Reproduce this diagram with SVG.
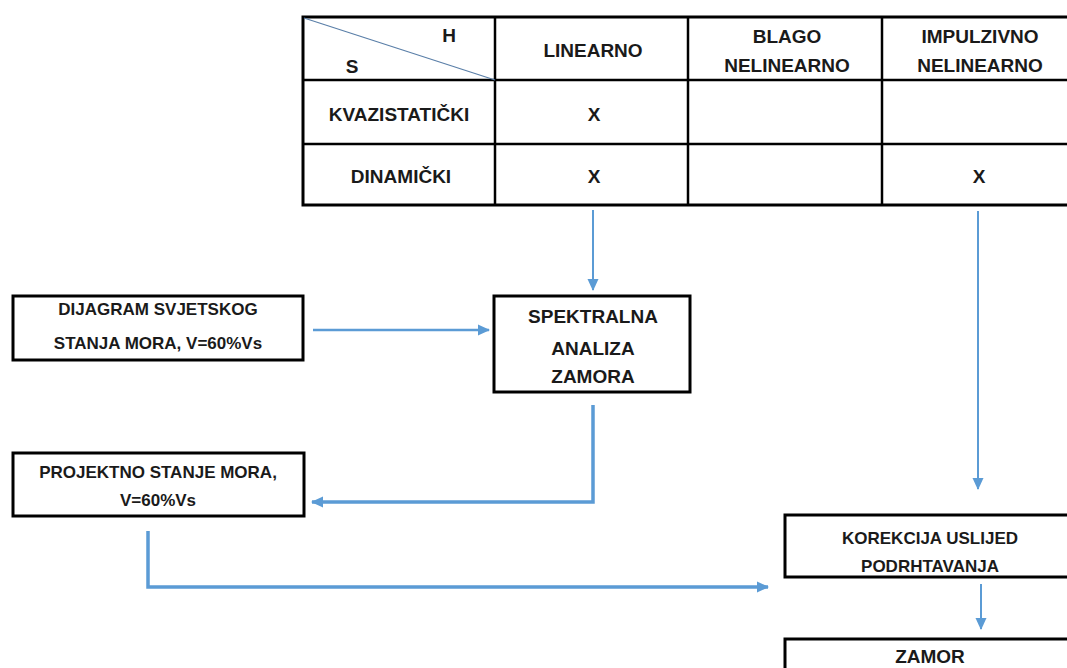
<svg xmlns="http://www.w3.org/2000/svg" width="1067" height="668" viewBox="0 0 1067 668">
<style>
.t{font-family:"Liberation Sans",Arial,sans-serif;font-weight:bold;fill:#1a1a1a;text-anchor:middle}
.th{font-size:19px}
.tb{font-size:17px}
.tc{font-size:19px}
.box{fill:#fff;stroke:#000;stroke-width:3}
.grid{stroke:#000;stroke-width:2.5;fill:none}
.c{fill:none;stroke:#5B9BD5;stroke-linejoin:miter}
</style>
<defs>
<marker id="ah" markerUnits="userSpaceOnUse" markerWidth="12" markerHeight="12" viewBox="0 0 12 12" refX="11" refY="6" orient="auto">
<path d="M0,0.5 L12,6 L0,11.5 Z" fill="#5B9BD5"/>
</marker>
</defs>
<rect width="1067" height="668" fill="#fff"/>
<g id="table">
<rect x="303" y="17" width="780" height="188" fill="#fff" stroke="#000" stroke-width="3"/>
<line class="grid" x1="303" y1="80" x2="1067" y2="80"/>
<line class="grid" x1="303" y1="144" x2="1067" y2="144" stroke-width="2"/>
<line class="grid" x1="495" y1="17" x2="495" y2="205"/>
<line class="grid" x1="688" y1="17" x2="688" y2="205" stroke-width="2"/>
<line class="grid" x1="882" y1="17" x2="882" y2="205" stroke-width="2"/>
<line x1="304" y1="18" x2="495" y2="80" stroke="#5a7fa8" stroke-width="1.2"/>
<text class="t th" x="449" y="42">H</text>
<text class="t th" x="352" y="73">S</text>
<text class="t th" x="593" y="57">LINEARNO</text>
<text class="t th" x="787" y="43">BLAGO</text>
<text class="t th" x="787" y="72">NELINEARNO</text>
<text class="t th" x="980" y="43">IMPULZIVNO</text>
<text class="t th" x="980" y="72">NELINEARNO</text>
<text class="t th" x="399" y="121">KVAZISTATIČKI</text>
<text class="t th" x="594" y="121">X</text>
<text class="t th" x="401" y="183">DINAMIČKI</text>
<text class="t th" x="594" y="183">X</text>
<text class="t th" x="979" y="183">X</text>
</g>
<g id="dijagram">
<rect class="box" x="13" y="296" width="290" height="64"/>
<text class="t tb" x="158" y="315">DIJAGRAM SVJETSKOG</text>
<text class="t tb" x="158" y="349">STANJA MORA, V=60%Vs</text>
</g>
<g id="spektralna">
<rect class="box" x="494" y="296" width="196" height="96"/>
<text class="t tc" x="593" y="323">SPEKTRALNA</text>
<text class="t tc" x="593" y="355">ANALIZA</text>
<text class="t tc" x="593" y="383">ZAMORA</text>
</g>
<g id="projektno">
<rect class="box" x="13" y="453" width="291" height="63"/>
<text class="t tb" x="158" y="478">PROJEKTNO STANJE MORA,</text>
<text class="t tb" x="158" y="506">V=60%Vs</text>
</g>
<g id="korekcija">
<rect class="box" x="785" y="515" width="300" height="62"/>
<text class="t tb" x="930" y="544">KOREKCIJA USLIJED</text>
<text class="t tb" x="930" y="572">PODRHTAVANJA</text>
</g>
<g id="zamor">
<rect class="box" x="785" y="639" width="300" height="50"/>
<text class="t tc" x="930" y="663">ZAMOR</text>
</g>
<g id="connectors">
<path class="c" stroke-width="2" d="M593,210 V290" marker-end="url(#ah)"/>
<path class="c" stroke-width="2.5" d="M313,330 H489" marker-end="url(#ah)"/>
<path class="c" stroke-width="3.5" d="M593,405 V502 H312" marker-end="url(#ah)"/>
<path class="c" stroke-width="2" d="M978,211 V489" marker-end="url(#ah)"/>
<path class="c" stroke-width="3.5" d="M148,531 V587 H768" marker-end="url(#ah)"/>
<path class="c" stroke-width="2" d="M981,584 V629" marker-end="url(#ah)"/>
</g>
</svg>
